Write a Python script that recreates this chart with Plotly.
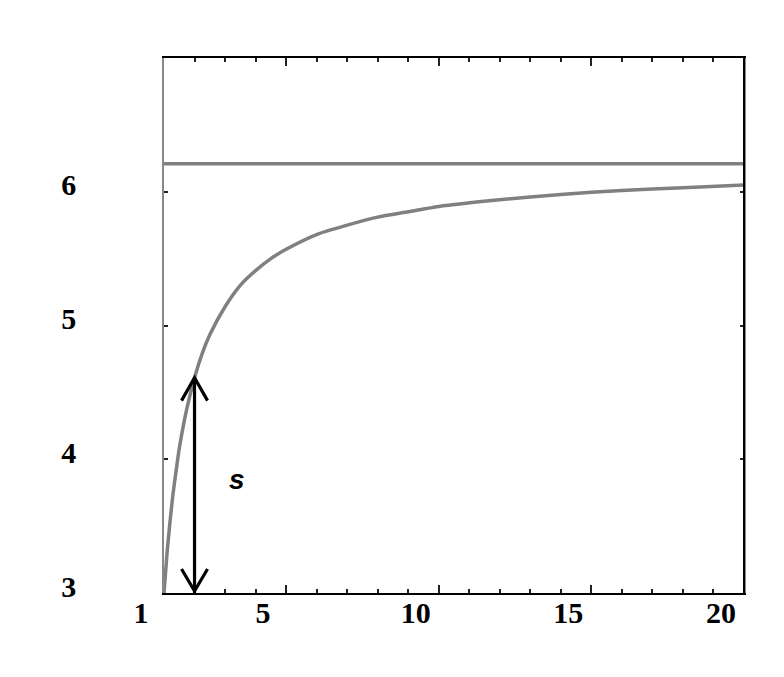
import plotly.graph_objects as go

# ---- data ----
curve_x = [1, 1.1, 1.2, 1.3, 1.4, 1.5, 1.75, 2, 2.25, 2.5, 3, 3.5, 4, 4.5, 5,
           6, 7, 8, 9, 10, 12, 14, 16, 18, 20]
curve_y = [3.0, 3.30, 3.54, 3.75, 3.92, 4.08, 4.38, 4.61, 4.79, 4.93, 5.14, 5.30, 5.41, 5.50, 5.57,
           5.68, 5.75, 5.81, 5.85, 5.89, 5.94, 5.98, 6.01, 6.03, 6.05]

limit_x = [1, 20]
limit_y = [6.21, 6.21]

x_tickvals = [1, 5, 10, 15, 20]
x_ticktext = ["1", "5", "10", "15", "20"]
y_tickvals = [3, 4, 5, 6]
y_ticktext = ["3", "4", "5", "6"]

arrow_x = 2
arrow_bottom = 3
arrow_top = curve_y[curve_x.index(arrow_x)]
label_text = "s"

GRAY = "#808080"
tickfont = dict(family="Liberation Serif", size=30, color="black", weight="bold")

fig = go.Figure()
fig.add_trace(go.Scatter(x=limit_x, y=limit_y, mode="lines",
                         line=dict(color=GRAY, width=3.5), hoverinfo="skip", showlegend=False))
fig.add_trace(go.Scatter(x=curve_x, y=curve_y, mode="lines",
                         line=dict(color=GRAY, width=3.5, shape="spline", smoothing=0.6),
                         hoverinfo="skip", showlegend=False))

shapes = [
    # arrow shaft
    dict(type="line", xref="x", yref="y", x0=arrow_x, x1=arrow_x, y0=arrow_bottom, y1=arrow_top,
         line=dict(color="black", width=3.2)),
    # top chevron
    dict(type="path", xref="x", yref="y", xsizemode="pixel", ysizemode="pixel",
         xanchor=arrow_x, yanchor=arrow_top, path="M -13 -23 L 0 0 L 13 -23",
         line=dict(color="black", width=3.2)),
    # bottom chevron
    dict(type="path", xref="x", yref="y", xsizemode="pixel", ysizemode="pixel",
         xanchor=arrow_x, yanchor=arrow_bottom, path="M -13 24 L 0 2 L 13 24",
         line=dict(color="black", width=3.2)),
    # darker right frame edge
    dict(type="line", xref="x domain", yref="y domain", x0=1, x1=1, y0=0, y1=1,
         line=dict(color="black", width=2)),
]

fig.update_layout(
    width=776, height=669,
    margin=dict(l=132, r=40, t=50, b=84),
    paper_bgcolor="white", plot_bgcolor="white",
    showlegend=False,
    shapes=shapes,
    annotations=[dict(x=3.4, y=3.85, xref="x", yref="y", text=label_text, showarrow=False,
                      font=dict(family="Liberation Sans", size=28, color="black",
                                style="italic", weight="bold"))],
    xaxis=dict(
        domain=[24 / 604, 1.0], range=[1, 20],
        showgrid=False, zeroline=False,
        showline=True, linecolor="black", linewidth=2, mirror="allticks",
        ticks="inside", ticklen=8, tickwidth=1.5, tickcolor="#222",
        tickvals=x_tickvals, ticktext=x_ticktext, tickfont=tickfont,
        ticklabelshift=-23, ticklabelstandoff=-8,
        minor=dict(dtick=1, tick0=1, ticks="inside", ticklen=4, tickwidth=1.5, tickcolor="#222"),
    ),
    yaxis=dict(
        range=[3, 7],
        showgrid=False, zeroline=False,
        showline=True, linecolor="#888", linewidth=1.5, mirror="allticks",
        ticks="inside", ticklen=4, tickwidth=1.5, tickcolor="#222",
        tickvals=y_tickvals, ticktext=y_ticktext, tickfont=tickfont,
        ticklabelstandoff=80, ticklabelshift=-7,
    ),
)

fig.write_html("out.html")
